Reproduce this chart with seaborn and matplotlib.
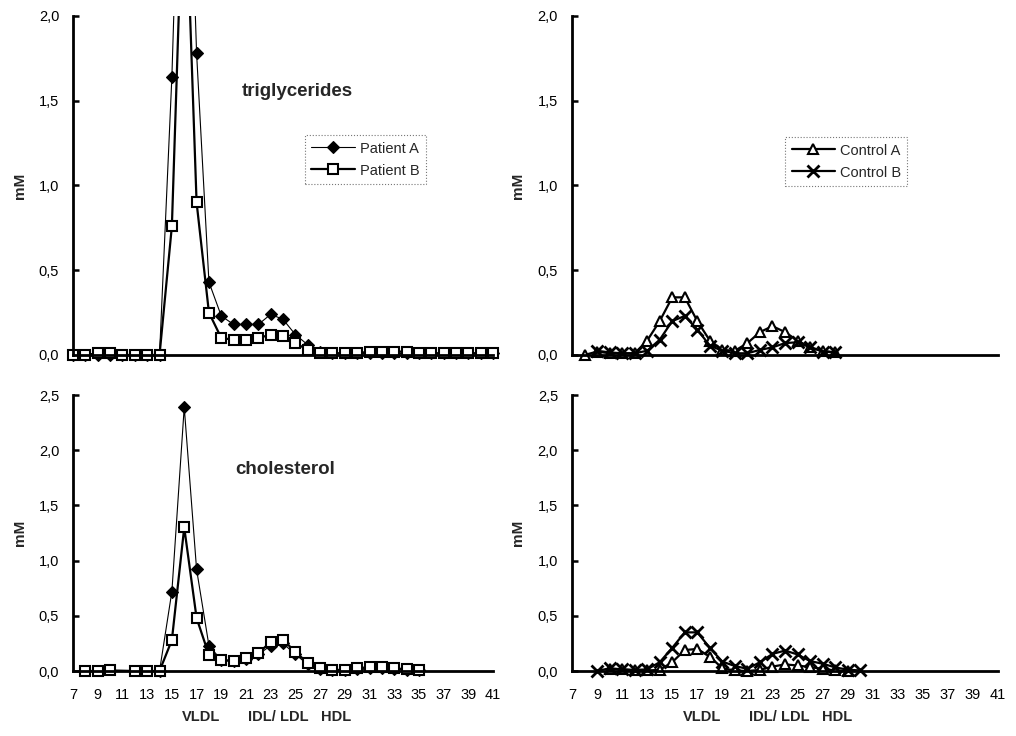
import matplotlib
matplotlib.use("Agg")
import matplotlib.pyplot as plt
import matplotlib.patches as mpatches
import seaborn as sns
import numpy as np

# ---------------- data ----------------
tg_x = list(range(7, 42))
tg_patient_a = [0.00, 0.00, 0.00, 0.00, 0.00, 0.00, 0.00, 0.00,
                1.64, 4.00, 1.78, 0.43, 0.23, 0.18, 0.18, 0.18, 0.24, 0.21, 0.12, 0.06,
                0.02, 0.01, 0.01, 0.01, 0.01, 0.01, 0.01, 0.01, 0.01, 0.01, 0.01, 0.01,
                0.01, 0.01, 0.01]
tg_patient_b = [0.00, 0.00, 0.01, 0.01, 0.00, 0.00, 0.00, 0.00,
                0.76, 3.00, 0.90, 0.25, 0.10, 0.09, 0.09, 0.10, 0.12, 0.11, 0.07, 0.03,
                0.01, 0.01, 0.01, 0.01, 0.02, 0.02, 0.02, 0.02, 0.01, 0.01, 0.01, 0.01,
                0.01, 0.01, 0.01]

ch_b_x = [8, 9, 10, 12, 13, 14] + list(range(15, 36))
ch_patient_b = [0.00, 0.00, 0.005, 0.00, 0.00, 0.00,
                0.28, 1.30, 0.48, 0.145, 0.10, 0.09, 0.115, 0.16, 0.265, 0.28, 0.175,
                0.07, 0.025, 0.01, 0.01, 0.025, 0.035, 0.035, 0.025, 0.015, 0.01]
ch_a_x = list(range(14, 36))
ch_patient_a = [0.00, 0.72, 2.39, 0.92, 0.23, 0.10, 0.09, 0.11, 0.15, 0.23, 0.25,
                0.15, 0.06, 0.02, 0.01, 0.01, 0.02, 0.03, 0.03, 0.02, 0.01, 0.01]

tgc_a_x = list(range(8, 29))
tg_control_a = [0.00, 0.02, 0.01, 0.01, 0.01, 0.085, 0.20, 0.34, 0.34, 0.20, 0.085,
                0.03, 0.025, 0.07, 0.135, 0.17, 0.135, 0.085, 0.045, 0.025, 0.015]
tgc_b_x = list(range(9, 29))
tg_control_b = [0.025, 0.015, 0.01, 0.01, 0.025, 0.09, 0.20, 0.23, 0.15, 0.055,
                0.025, 0.01, 0.01, 0.03, 0.045, 0.07, 0.075, 0.045, 0.02, 0.015]

chc_a_x = list(range(10, 30))
ch_control_a = [0.015, 0.015, 0.005, 0.005, 0.01, 0.08, 0.19, 0.20, 0.13, 0.025,
                0.005, 0.00, 0.01, 0.04, 0.06, 0.05, 0.035, 0.02, 0.005, 0.00]
chc_b_x = list(range(9, 31))
ch_control_b = [0.00, 0.025, 0.015, 0.01, 0.015, 0.08, 0.21, 0.35, 0.35, 0.21, 0.085,
                0.045, 0.02, 0.08, 0.155, 0.185, 0.15, 0.09, 0.066, 0.033, 0.012, 0.005]

x_ticks = list(range(7, 42, 2))
x_tick_labels = [str(v) for v in x_ticks]
tg_y_ticks = [0.0, 0.5, 1.0, 1.5, 2.0]
ch_y_ticks = [0.0, 0.5, 1.0, 1.5, 2.0, 2.5]

# ---------------- style ----------------
sns.set_style("ticks")
plt.rcParams['font.family'] = ['Liberation Sans', 'DejaVu Sans']

fig = plt.figure(figsize=(10.16, 7.36), dpi=100)
ax_tl = fig.add_axes([0.0719, 0.5177, 0.4134, 0.4606])
ax_bl = fig.add_axes([0.0719, 0.0883, 0.4134, 0.375])
ax_tr = fig.add_axes([0.563, 0.5177, 0.4193, 0.4606])
ax_br = fig.add_axes([0.563, 0.0883, 0.4193, 0.375])


def fmt(v):
    return f"{v:.1f}".replace('.', ',')


def style_axes(ax, yticks, show_x):
    ax.set_xlim(7, 41)
    ax.set_ylim(0, yticks[-1])
    ax.set_yticks(yticks)
    ax.set_yticklabels([fmt(v) for v in yticks])
    ax.set_xticks(x_ticks)
    if show_x:
        ax.set_xticklabels(x_tick_labels)
    else:
        ax.set_xticklabels([])
    for s in ['top', 'right']:
        ax.spines[s].set_visible(False)
    for s in ['left', 'bottom']:
        ax.spines[s].set_linewidth(2.0)
        ax.spines[s].set_color('black')
    ax.tick_params(axis='y', direction='in', length=4, width=1.8,
                   labelsize=10.5, pad=10, colors='black')
    ax.tick_params(axis='x', length=0, labelsize=10.5, pad=12, colors='black')
    ax.set_xlabel('')
    ax.set_ylabel('mM', fontweight='bold', fontsize=11)
    ax.yaxis.set_label_coords(-0.11, 0.5)


def draw(ax, x, y, **kw):
    n0 = len(ax.lines)
    sns.lineplot(x=x, y=y, ax=ax, estimator=None, sort=False, color='black', **kw)
    rect = mpatches.Rectangle((-0.05, -0.08), 1.1, 1.08, transform=ax.transAxes)
    for ln in ax.lines[n0:]:
        ln.set_clip_path(rect)


# top-left: triglycerides patients
draw(ax_tl, tg_x, tg_patient_a, label='Patient A', linewidth=0.8, marker='D',
     markersize=6.5, markerfacecolor='black', markeredgecolor='black', markeredgewidth=0.8)
draw(ax_tl, tg_x, tg_patient_b, label='Patient B', linewidth=1.6, marker='s',
     markersize=7.5, markerfacecolor='white', markeredgecolor='black', markeredgewidth=1.5)

# bottom-left: cholesterol patients
draw(ax_bl, ch_a_x, ch_patient_a, linewidth=0.8, marker='D',
     markersize=6.5, markerfacecolor='black', markeredgecolor='black', markeredgewidth=0.8)
draw(ax_bl, ch_b_x, ch_patient_b, linewidth=1.6, marker='s',
     markersize=7.5, markerfacecolor='white', markeredgecolor='black', markeredgewidth=1.5)

# top-right: triglycerides controls
draw(ax_tr, tgc_a_x, tg_control_a, label='Control A', linewidth=1.6, marker='^',
     markersize=7.5, markerfacecolor='white', markeredgecolor='black', markeredgewidth=1.5)
draw(ax_tr, tgc_b_x, tg_control_b, label='Control B', linewidth=1.6, marker='x',
     markersize=8, markeredgecolor='black', markeredgewidth=2.0)

# bottom-right: cholesterol controls
draw(ax_br, chc_a_x, ch_control_a, linewidth=1.6, marker='^',
     markersize=7.5, markerfacecolor='white', markeredgecolor='black', markeredgewidth=1.5)
draw(ax_br, chc_b_x, ch_control_b, linewidth=1.6, marker='x',
     markersize=8, markeredgecolor='black', markeredgewidth=2.0)

style_axes(ax_tl, tg_y_ticks, False)
style_axes(ax_bl, ch_y_ticks, True)
style_axes(ax_tr, tg_y_ticks, False)
style_axes(ax_br, ch_y_ticks, True)

for ax, anchor in [(ax_tl, (0.552, 0.649)), (ax_tr, (0.50, 0.643))]:
    leg = ax.legend(loc='upper left', bbox_to_anchor=anchor, fontsize=10.5,
                    frameon=True, fancybox=False, handlelength=3.0,
                    handletextpad=0.3, borderpad=0.45, labelspacing=0.55,
                    borderaxespad=0)
    fr = leg.get_frame()
    fr.set_linestyle(':')
    fr.set_edgecolor('#555555')
    fr.set_linewidth(0.8)

fig.text(242 / 1016, 1 - 92 / 736, 'triglycerides', fontsize=13.5, fontweight='bold',
         ha='left', va='center')
fig.text(235 / 1016, 1 - 470 / 736, 'cholesterol', fontsize=13.5, fontweight='bold',
         ha='left', va='center')

for x0 in (182, 683):
    for dx, s in [(0, 'VLDL'), (66, 'IDL/ LDL'), (139, 'HDL')]:
        fig.text((x0 + dx) / 1016, 1 - 717 / 736, s, fontsize=10.5, fontweight='bold',
                 ha='left', va='center')

fig.savefig('out.png', dpi=100)
